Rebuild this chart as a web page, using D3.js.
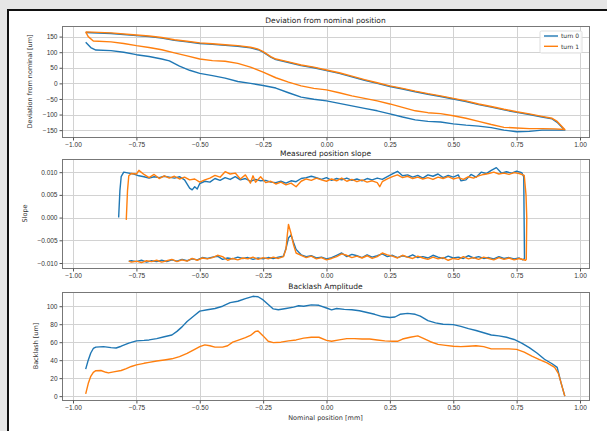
<!DOCTYPE html>
<html>
<head>
<meta charset="utf-8">
<script src="https://cdn.jsdelivr.net/npm/d3@7"></script>
<style>
  body { margin: 0; background: #e6e6e6; }
  svg { display: block; font-family: "DejaVu Sans", sans-serif; }
  .tick text { fill: #333; font-size: 6.5px; }
  .tick line { stroke: #555; }
</style>
</head>
<body>
<svg id="fig" width="607" height="431"></svg>
<script>
// ---- data ----
const xTicks = [-1, -0.75, -0.5, -0.25, 0, 0.25, 0.5, 0.75, 1]
const devTicks = [-150, -100, -50, 0, 50, 100, 150]
const slopeTicks = [-0.01, -0.005, 0, 0.005, 0.01]
const backlashTicks = [0, 20, 40, 60, 80, 100]
const seriesNames = ['turn 0', 'turn 1']
const colors = ['#1f77b4', '#ff7f0e']

// deviation from nominal [um]: lower pass then upper pass
const devTurn0 = [
  [-0.95, 132], [-0.93, 115], [-0.91, 107], [-0.85, 105], [-0.8, 100], [-0.75, 92], [-0.7, 86],
  [-0.65, 78], [-0.62, 72], [-0.58, 55], [-0.54, 42], [-0.5, 32], [-0.45, 25], [-0.4, 17],
  [-0.35, 6], [-0.3, 0], [-0.25, -7], [-0.2, -15], [-0.15, -30], [-0.1, -44], [-0.05, -51],
  [0, -56], [0.05, -64], [0.1, -72], [0.15, -80], [0.2, -88], [0.25, -98], [0.3, -108],
  [0.35, -117], [0.4, -122], [0.45, -124], [0.5, -130], [0.55, -134], [0.6, -137], [0.65, -142],
  [0.7, -150], [0.75, -155], [0.8, -154], [0.85, -150], [0.9, -150], [0.94, -150],
  [0.91, -125], [0.89, -114], [0.85, -108], [0.8, -100], [0.75, -93], [0.7, -85], [0.65, -76],
  [0.6, -68], [0.55, -58], [0.5, -50], [0.45, -42], [0.4, -35], [0.35, -27], [0.3, -18],
  [0.25, -10], [0.2, 0], [0.15, 10], [0.1, 21], [0.05, 32], [0, 41], [-0.05, 50], [-0.1, 57],
  [-0.15, 67], [-0.2, 76], [-0.22, 84], [-0.25, 100], [-0.27, 108], [-0.3, 114], [-0.35, 119],
  [-0.4, 122], [-0.45, 125], [-0.5, 128], [-0.55, 133], [-0.6, 138], [-0.65, 145], [-0.7, 150],
  [-0.75, 153], [-0.85, 160], [-0.95, 163]
]
const devTurn1 = [
  [-0.95, 165], [-0.94, 150], [-0.92, 136], [-0.85, 133], [-0.8, 128], [-0.75, 121], [-0.7, 115],
  [-0.65, 108], [-0.6, 98], [-0.55, 88], [-0.5, 78], [-0.45, 73], [-0.4, 71], [-0.35, 64],
  [-0.3, 52], [-0.25, 36], [-0.2, 18], [-0.15, 4], [-0.1, -8], [-0.05, -16], [0, -21],
  [0.05, -30], [0.1, -40], [0.15, -48], [0.2, -56], [0.25, -66], [0.3, -77], [0.35, -88],
  [0.4, -94], [0.45, -97], [0.5, -104], [0.55, -112], [0.6, -122], [0.65, -132], [0.7, -141],
  [0.75, -143], [0.8, -145], [0.85, -145], [0.9, -146], [0.94, -148],
  [0.91, -122], [0.89, -112], [0.85, -106], [0.8, -98], [0.75, -91], [0.7, -83], [0.65, -74],
  [0.6, -66], [0.55, -56], [0.5, -48], [0.45, -40], [0.4, -33], [0.35, -25], [0.3, -16],
  [0.25, -8], [0.2, 2], [0.15, 12], [0.1, 23], [0.05, 34], [0, 43], [-0.05, 52], [-0.1, 59],
  [-0.15, 69], [-0.2, 78], [-0.22, 86], [-0.25, 102], [-0.27, 110], [-0.3, 116], [-0.35, 121],
  [-0.4, 124], [-0.45, 127], [-0.5, 130], [-0.55, 135], [-0.6, 140], [-0.65, 147], [-0.7, 152],
  [-0.75, 155], [-0.85, 162], [-0.95, 165]
]

// measured position slope: upper pass then lower pass
const slopeTurn0 = [
  [-0.82, 0], [-0.815, 0.006], [-0.81, 0.009], [-0.8, 0.01], [-0.78, 0.0098], [-0.76, 0.0096],
  [-0.74, 0.0092], [-0.72, 0.009], [-0.7, 0.0087], [-0.68, 0.009], [-0.66, 0.0088], [-0.64, 0.0091],
  [-0.62, 0.0089], [-0.6, 0.0087], [-0.58, 0.009], [-0.56, 0.0083], [-0.54, 0.0065], [-0.53, 0.0061],
  [-0.52, 0.0068], [-0.51, 0.0063], [-0.5, 0.0075], [-0.48, 0.008], [-0.46, 0.0078], [-0.44, 0.0086],
  [-0.42, 0.0082], [-0.4, 0.0088], [-0.38, 0.0084], [-0.36, 0.009], [-0.34, 0.0083], [-0.32, 0.0086],
  [-0.3, 0.008], [-0.28, 0.0084], [-0.26, 0.0081], [-0.24, 0.0082], [-0.22, 0.0078], [-0.2, 0.0077],
  [-0.18, 0.008], [-0.16, 0.0076], [-0.14, 0.0081], [-0.12, 0.0079], [-0.1, 0.0086], [-0.08, 0.0088],
  [-0.06, 0.0091], [-0.04, 0.0088], [-0.02, 0.0084], [0, 0.0088], [0.02, 0.0082], [0.04, 0.0086],
  [0.06, 0.0083], [0.08, 0.0087], [0.1, 0.0082], [0.12, 0.0085], [0.14, 0.0081], [0.16, 0.0086],
  [0.18, 0.0083], [0.2, 0.0087], [0.22, 0.0084], [0.24, 0.009], [0.26, 0.0096], [0.28, 0.0102],
  [0.3, 0.0092], [0.32, 0.0094], [0.34, 0.0089], [0.36, 0.0093], [0.38, 0.0087], [0.4, 0.0094],
  [0.42, 0.0091], [0.44, 0.0096], [0.46, 0.0088], [0.48, 0.0093], [0.5, 0.0089], [0.52, 0.0094],
  [0.53, 0.0081], [0.55, 0.0083], [0.57, 0.0095], [0.59, 0.0089], [0.61, 0.01], [0.63, 0.0097],
  [0.65, 0.0104], [0.67, 0.011], [0.69, 0.0098], [0.71, 0.0101], [0.73, 0.0098], [0.75, 0.0102],
  [0.77, 0.0099], [0.778, 0.009], [0.781, -0.009],
  [0.775, -0.0093], [0.76, -0.0089], [0.74, -0.0091], [0.72, -0.0088], [0.7, -0.009], [0.68, -0.0086],
  [0.66, -0.0091], [0.64, -0.0088], [0.62, -0.009], [0.6, -0.0086], [0.58, -0.0089], [0.56, -0.0084],
  [0.54, -0.009], [0.52, -0.0087], [0.5, -0.0089], [0.48, -0.0085], [0.46, -0.009], [0.44, -0.0087],
  [0.42, -0.0083], [0.4, -0.0089], [0.38, -0.0086], [0.36, -0.0088], [0.34, -0.0082], [0.32, -0.0087],
  [0.3, -0.0084], [0.28, -0.0088], [0.26, -0.0083], [0.24, -0.0086], [0.22, -0.008], [0.2, -0.0084],
  [0.18, -0.0087], [0.16, -0.0082], [0.14, -0.0088], [0.12, -0.0084], [0.1, -0.0081], [0.08, -0.0086],
  [0.06, -0.0078], [0.04, -0.0083], [0.02, -0.0088], [0, -0.0091], [-0.02, -0.0087], [-0.04, -0.0089],
  [-0.06, -0.0084], [-0.08, -0.0086], [-0.1, -0.0082], [-0.12, -0.007], [-0.13, -0.0055],
  [-0.14, -0.0038], [-0.15, -0.0045], [-0.16, -0.0068], [-0.17, -0.0085], [-0.19, -0.0087],
  [-0.21, -0.009], [-0.23, -0.0088], [-0.25, -0.0091], [-0.27, -0.0089], [-0.29, -0.0092],
  [-0.31, -0.0088], [-0.33, -0.009], [-0.35, -0.0087], [-0.37, -0.0091], [-0.39, -0.0089],
  [-0.41, -0.0092], [-0.43, -0.0085], [-0.45, -0.0087], [-0.47, -0.009], [-0.49, -0.0088],
  [-0.51, -0.0093], [-0.53, -0.0091], [-0.55, -0.0095], [-0.57, -0.0092], [-0.59, -0.0096],
  [-0.61, -0.0093], [-0.63, -0.0097], [-0.65, -0.0094], [-0.67, -0.0097], [-0.69, -0.0095],
  [-0.71, -0.0098], [-0.73, -0.0094], [-0.75, -0.0097], [-0.77, -0.0095], [-0.78, -0.0096]
]
const slopeTurn1 = [
  [-0.79, -0.0005], [-0.785, 0.006], [-0.78, 0.0092], [-0.77, 0.0097], [-0.75, 0.0096], [-0.74, 0.0104],
  [-0.72, 0.0095], [-0.7, 0.0088], [-0.68, 0.0095], [-0.66, 0.0086], [-0.64, 0.0092], [-0.62, 0.0087],
  [-0.6, 0.0091], [-0.58, 0.0085], [-0.56, 0.0089], [-0.54, 0.0083], [-0.52, 0.0085], [-0.5, 0.0078],
  [-0.48, 0.0083], [-0.46, 0.0087], [-0.44, 0.0093], [-0.42, 0.0089], [-0.4, 0.0101], [-0.38, 0.0096],
  [-0.36, 0.0098], [-0.34, 0.0085], [-0.32, 0.0094], [-0.3, 0.0076], [-0.29, 0.0092], [-0.28, 0.0078],
  [-0.26, 0.009], [-0.24, 0.0077], [-0.22, 0.008], [-0.2, 0.0074], [-0.18, 0.0078], [-0.16, 0.0072],
  [-0.14, 0.0076], [-0.12, 0.0068], [-0.1, 0.008], [-0.08, 0.0085], [-0.06, 0.0082], [-0.04, 0.0087],
  [-0.02, 0.0083], [0, 0.008], [0.02, 0.0085], [0.04, 0.0081], [0.06, 0.0087], [0.08, 0.008],
  [0.1, 0.0084], [0.12, 0.0079], [0.14, 0.0083], [0.16, 0.0078], [0.18, 0.0081], [0.2, 0.0077],
  [0.21, 0.0068], [0.22, 0.0079], [0.24, 0.0085], [0.26, 0.009], [0.28, 0.0094], [0.3, 0.0088],
  [0.32, 0.0091], [0.34, 0.0086], [0.36, 0.0089], [0.38, 0.0085], [0.4, 0.0088], [0.42, 0.0084],
  [0.44, 0.0089], [0.46, 0.0086], [0.48, 0.009], [0.5, 0.0085], [0.52, 0.0088], [0.54, 0.0084],
  [0.56, 0.009], [0.58, 0.0087], [0.6, 0.0092], [0.62, 0.0095], [0.64, 0.0097], [0.66, 0.01],
  [0.68, 0.0096], [0.7, 0.0098], [0.72, 0.0095], [0.74, 0.0099], [0.76, 0.0097], [0.78, 0.0093],
  [0.787, 0.005], [0.79, 0], [0.788, -0.0092],
  [0.785, -0.0094], [0.76, -0.009], [0.74, -0.0093], [0.72, -0.0089], [0.7, -0.0092], [0.68, -0.0088],
  [0.66, -0.0093], [0.64, -0.009], [0.62, -0.0087], [0.6, -0.0092], [0.58, -0.0088], [0.56, -0.0091],
  [0.54, -0.0086], [0.52, -0.0092], [0.5, -0.009], [0.48, -0.0094], [0.46, -0.0088], [0.44, -0.0091],
  [0.42, -0.0087], [0.4, -0.0092], [0.38, -0.0089], [0.36, -0.0085], [0.34, -0.009], [0.32, -0.0087],
  [0.3, -0.0083], [0.28, -0.0089], [0.26, -0.0085], [0.24, -0.0082], [0.22, -0.0078], [0.2, -0.0086],
  [0.18, -0.009], [0.16, -0.0084], [0.14, -0.0089], [0.12, -0.0085], [0.1, -0.0088], [0.08, -0.0083],
  [0.06, -0.008], [0.04, -0.0086], [0.02, -0.009], [0, -0.0093], [-0.02, -0.0088], [-0.04, -0.0091],
  [-0.06, -0.0085], [-0.08, -0.0088], [-0.1, -0.0083], [-0.12, -0.0078], [-0.13, -0.006],
  [-0.14, -0.0035], [-0.15, -0.0015], [-0.155, -0.004], [-0.16, -0.007], [-0.17, -0.0086],
  [-0.19, -0.009], [-0.21, -0.0087], [-0.23, -0.0091], [-0.25, -0.0088], [-0.27, -0.0092],
  [-0.29, -0.0087], [-0.31, -0.0091], [-0.33, -0.0089], [-0.35, -0.0093], [-0.37, -0.009],
  [-0.39, -0.0094], [-0.41, -0.0086], [-0.43, -0.0083], [-0.45, -0.0088], [-0.47, -0.0091],
  [-0.49, -0.0089], [-0.51, -0.0094], [-0.53, -0.009], [-0.55, -0.0096], [-0.57, -0.0093],
  [-0.59, -0.0097], [-0.61, -0.0092], [-0.63, -0.0095], [-0.65, -0.0098], [-0.67, -0.0094],
  [-0.69, -0.0097], [-0.71, -0.0095], [-0.73, -0.0099], [-0.75, -0.0096], [-0.77, -0.0098], [-0.78, -0.0096]
]

// backlash amplitude [um]
const backlashTurn0 = [
  [-0.95, 30], [-0.94, 40], [-0.93, 48], [-0.92, 53], [-0.91, 54.5], [-0.88, 55], [-0.85, 54],
  [-0.83, 53.5], [-0.81, 55.5], [-0.78, 59], [-0.75, 61.5], [-0.72, 62], [-0.7, 62.5], [-0.67, 64],
  [-0.64, 66], [-0.61, 68], [-0.59, 72], [-0.57, 77], [-0.55, 83], [-0.52, 90], [-0.5, 94.5],
  [-0.47, 96], [-0.44, 97.5], [-0.41, 100], [-0.38, 104], [-0.35, 105.5], [-0.32, 108.5], [-0.29, 111],
  [-0.27, 110.5], [-0.25, 107], [-0.23, 102], [-0.21, 97], [-0.19, 96], [-0.16, 97.5], [-0.13, 99],
  [-0.11, 100.5], [-0.09, 100], [-0.06, 101.5], [-0.03, 101], [0, 98], [0.02, 96], [0.04, 97.5],
  [0.07, 96.5], [0.1, 96], [0.13, 95], [0.16, 93], [0.19, 91], [0.22, 88.5], [0.25, 87.5], [0.27, 88],
  [0.29, 91], [0.32, 92], [0.35, 91], [0.37, 89], [0.4, 84], [0.43, 81.5], [0.46, 80], [0.5, 79.5],
  [0.53, 77.5], [0.56, 75], [0.59, 73], [0.62, 70.5], [0.65, 68], [0.68, 67], [0.71, 65.5], [0.74, 63],
  [0.77, 59], [0.8, 54], [0.83, 48], [0.86, 41], [0.89, 36], [0.91, 32], [0.925, 15], [0.94, 0]
]
const backlashTurn1 = [
  [-0.95, 2.5], [-0.94, 14], [-0.93, 22], [-0.92, 26.5], [-0.91, 28.3], [-0.89, 28.5], [-0.87, 26.5],
  [-0.86, 25.8], [-0.84, 27], [-0.81, 28.5], [-0.79, 30.5], [-0.77, 33], [-0.75, 34.7], [-0.72, 36.5],
  [-0.7, 37.5], [-0.67, 39], [-0.64, 40.2], [-0.61, 41.5], [-0.58, 44], [-0.55, 47.5], [-0.52, 52],
  [-0.5, 55], [-0.48, 57], [-0.46, 56], [-0.44, 54.5], [-0.41, 54.5], [-0.39, 56], [-0.37, 60],
  [-0.35, 62], [-0.32, 65], [-0.3, 67.5], [-0.28, 72], [-0.27, 72.5], [-0.25, 67], [-0.23, 61],
  [-0.21, 59.5], [-0.18, 60], [-0.15, 61.5], [-0.12, 62.5], [-0.09, 64.5], [-0.06, 65.5], [-0.03, 65.5],
  [0, 62], [0.02, 61], [0.05, 62.5], [0.08, 64], [0.11, 64], [0.14, 63.5], [0.17, 63.5], [0.2, 62.5],
  [0.23, 61.5], [0.26, 61], [0.28, 61], [0.3, 63.5], [0.33, 65.5], [0.36, 67], [0.38, 64.5], [0.41, 60.5],
  [0.44, 57.5], [0.47, 56.5], [0.5, 55.5], [0.53, 55], [0.56, 55.5], [0.59, 56], [0.62, 55], [0.65, 52.5],
  [0.68, 52.5], [0.72, 52.5], [0.75, 52], [0.78, 49], [0.81, 44.5], [0.84, 40.5], [0.87, 37], [0.9, 32],
  [0.915, 25], [0.94, 0]
]

// ---- layout ----
const svg = d3.select('#fig')
const plotLeft = 62
const plotRight = 589

// figure frame (white page with black border, cropped at right/bottom)
svg.append('rect')
  .attr('x', 8).attr('y', 10).attr('width', 610).attr('height', 430)
  .attr('fill', '#fff').attr('stroke', '#111').attr('stroke-width', 2)

const x = d3.scaleLinear().domain([-1.0435, 1.0355]).range([plotLeft, plotRight])

const panels = [
  { title: 'Deviation from nominal position', ylabel: 'Deviation from nominal [um]', top: 26, bottom: 137,
    domain: [-172, 184], ticks: devTicks, fmt: d3.format('d'), series: [devTurn0, devTurn1], labelX: 32, legend: true },
  { title: 'Measured position slope', ylabel: 'Slope', top: 159, bottom: 268,
    domain: [-0.0111, 0.0129], ticks: slopeTicks, fmt: d3.format('.3f'), series: [slopeTurn0, slopeTurn1], labelX: 27 },
  { title: 'Backlash Amplitude', ylabel: 'Backlash [um]', top: 292, bottom: 400,
    domain: [-4.3, 115.8], ticks: backlashTicks, fmt: d3.format('d'), series: [backlashTurn0, backlashTurn1], labelX: 38, xlabel: 'Nominal position [mm]' }
]

panels.forEach(p => {
  const y = d3.scaleLinear().domain(p.domain).range([p.bottom, p.top])
  const g = svg.append('g')

  // grid
  g.append('g').selectAll('line').data(xTicks).join('line')
    .attr('x1', d => Math.round(x(d)) + 0.5).attr('x2', d => Math.round(x(d)) + 0.5)
    .attr('y1', p.top).attr('y2', p.bottom)
    .attr('stroke', '#d2d2d2').attr('stroke-width', 1)
  g.append('g').selectAll('line').data(p.ticks).join('line')
    .attr('y1', d => Math.round(y(d)) + 0.5).attr('y2', d => Math.round(y(d)) + 0.5)
    .attr('x1', plotLeft).attr('x2', plotRight)
    .attr('stroke', '#d2d2d2').attr('stroke-width', 1)

  // series
  const line = d3.line().x(d => x(d[0])).y(d => y(d[1]))
  p.series.forEach((s, i) => {
    g.append('path').datum(s)
      .attr('d', line)
      .attr('fill', 'none')
      .attr('stroke', colors[i])
      .attr('stroke-width', 1.4)
      .attr('stroke-linejoin', 'round')
  })

  // frame
  g.append('rect')
    .attr('x', plotLeft + 0.5).attr('y', p.top + 0.5)
    .attr('width', plotRight - plotLeft).attr('height', p.bottom - p.top)
    .attr('fill', 'none').attr('stroke', '#777').attr('stroke-width', 1)

  // axes
  const xAxis = d3.axisBottom(x).tickValues(xTicks).tickFormat(d3.format('.2f')).tickSize(3).tickPadding(2)
  g.append('g').attr('transform', `translate(0,${p.bottom + 0.5})`).call(xAxis)
    .call(a => a.select('.domain').remove())
  const yAxis = d3.axisLeft(y).tickValues(p.ticks).tickFormat(p.fmt).tickSize(3).tickPadding(2)
  g.append('g').attr('transform', `translate(${plotLeft + 0.5},0)`).call(yAxis)
    .call(a => a.select('.domain').remove())

  // title
  g.append('text')
    .attr('x', (plotLeft + plotRight) / 2).attr('y', p.top - 3.5)
    .attr('text-anchor', 'middle').attr('font-size', 7.5).attr('fill', '#222')
    .text(p.title)

  // y label
  g.append('text')
    .attr('transform', `translate(${p.labelX},${(p.top + p.bottom) / 2}) rotate(-90)`)
    .attr('text-anchor', 'middle').attr('font-size', 6.5).attr('fill', '#333')
    .text(p.ylabel)

  if (p.xlabel) {
    g.append('text')
      .attr('x', (plotLeft + plotRight) / 2).attr('y', p.bottom + 20)
      .attr('text-anchor', 'middle').attr('font-size', 6.5).attr('fill', '#333')
      .text(p.xlabel)
  }

  if (p.legend) {
    const lg = g.append('g').attr('transform', 'translate(540,31)')
    lg.append('rect').attr('width', 42).attr('height', 22).attr('rx', 1.5)
      .attr('fill', '#fff').attr('fill-opacity', 0.85).attr('stroke', '#ddd')
    seriesNames.forEach((name, i) => {
      lg.append('line').attr('x1', 4).attr('x2', 18)
        .attr('y1', 5 + i * 10.3).attr('y2', 5 + i * 10.3)
        .attr('stroke', colors[i]).attr('stroke-width', 1.4)
      lg.append('text').attr('x', 21).attr('y', 7.3 + i * 10.3)
        .attr('font-size', 6).attr('fill', '#333').text(name)
    })
  }
})
</script>
</body>
</html>
